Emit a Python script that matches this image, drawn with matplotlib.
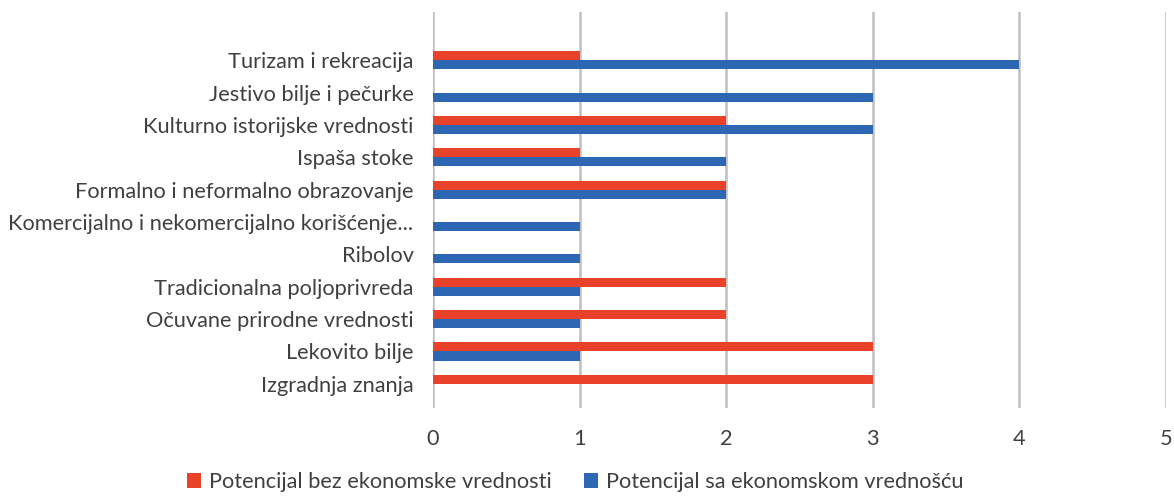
"""Horizontal grouped bar chart — potencijali ekosistemskih usluga"""

import matplotlib
matplotlib.use("Agg")
import matplotlib.pyplot as plt
import numpy as np

RED = "#E8432A"
BLUE = "#2D66B3"
GRID = "#BFBFBF"
DARK_TEXT = "#404040"

categories = [
    "Turizam i rekreacija",
    "Jestivo bilje i pečurke",
    "Kulturno istorijske vrednosti",
    "Ispaša stoke",
    "Formalno i neformalno obrazovanje",
    "Komercijalno i nekomercijalno korišćenje...",
    "Ribolov",
    "Tradicionalna poljoprivreda",
    "Očuvane prirodne vrednosti",
    "Lekovito bilje",
    "Izgradnja znanja",
]
bez_vrednosti = [1, 0, 2, 1, 2, 0, 0, 2, 2, 3, 3]
sa_vrednoscu = [4, 3, 3, 2, 2, 1, 1, 1, 1, 1, 0]
x_ticks = [0, 1, 2, 3, 4, 5]

plt.rcParams["font.family"] = ["Lato", "DejaVu Sans"]
FS = 15.7

fig = plt.figure(figsize=(11.74, 4.97), dpi=100)
ax = fig.add_axes([0.3688, 0.179, 0.6244, 0.797])

y = np.arange(len(categories))
h = 0.28
ax.barh(y - h / 2, bez_vrednosti, height=h, color=RED,
        label="Potencijal bez ekonomske vrednosti", zorder=3)
ax.barh(y + h / 2, sa_vrednoscu, height=h, color=BLUE,
        label="Potencijal sa ekonomskom vrednošću", zorder=3)

ax.set_ylim(10.75, -1.5)
ax.set_xlim(0, 5)
ax.set_yticks(y)
ax.set_yticklabels(categories, fontsize=FS, color=DARK_TEXT)
ax.set_xticks(x_ticks)
ax.set_xticklabels([str(v) for v in x_ticks], fontsize=FS, color=DARK_TEXT)
ax.tick_params(axis="y", length=0, pad=14)
ax.tick_params(axis="x", length=0, pad=15)

for s in ax.spines.values():
    s.set_visible(False)
ax.xaxis.grid(True, color=GRID, linewidth=1.8, zorder=0)
ax.set_axisbelow(True)

ax.legend(loc="lower center", bbox_to_anchor=(0.49, -0.008),
          bbox_transform=fig.transFigure, ncol=2, frameon=False,
          fontsize=FS, handlelength=0.65, handleheight=0.65,
          handletextpad=0.35, columnspacing=1.5, labelcolor=DARK_TEXT,
          borderaxespad=0.0)

fig.savefig("out.png", dpi=100, facecolor="white")
